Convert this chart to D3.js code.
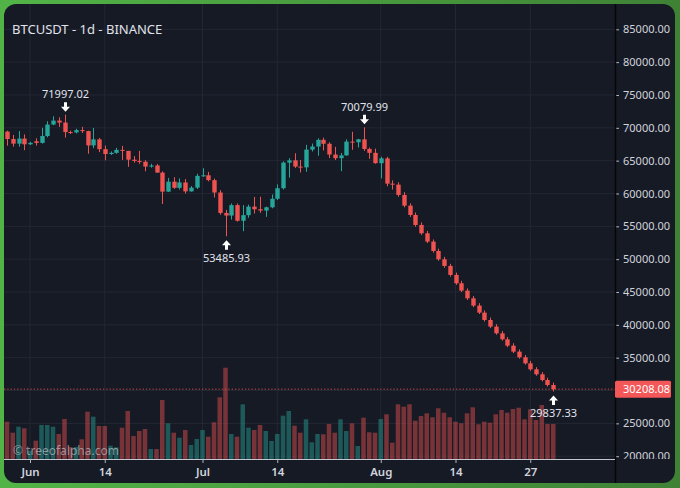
<!DOCTYPE html>
<html>
<head>
<meta charset="utf-8">
<script src="https://cdn.jsdelivr.net/npm/d3@7"></script>
<style>
  html, body { margin: 0; padding: 0; background: #4a9e3f; }
  svg { display: block; }
  text { font-family: "Noto Sans", "Open Sans", sans-serif; }
</style>
</head>
<body>
<div id="chart"></div>
<script>
const title = 'BTCUSDT - 1d - BINANCE'
const watermark = '\u00a9 treeofalpha.com'
const startDate = '2024-05-28'

// daily candles, May 28 .. Aug 31
const opens = [
  69430, 68300, 67590, 68360, 67490, 67950, 67700, 68750, 70500, 71100,
  70800, 69350, 69300, 69650, 69500, 67320, 68240, 66750, 66010, 66190,
  66640, 66490, 65150, 64960, 64830, 64100, 64260, 63180, 60280, 61800,
  60860, 61680, 60320, 60890, 62680, 62770, 62030, 60150, 57040, 56640,
  58230, 55850, 56700, 58000, 57600, 57400, 57900, 59200, 60800, 64700,
  65050, 64100, 63980, 66680, 67150, 68170, 67570, 65930, 65370, 65800,
  67900, 67800, 68250, 66780, 66190, 64620, 65350, 61500, 61350, 59780,
  58150, 56730, 55210, 53940, 52670, 51250, 49980, 48970, 47600, 46330,
  45210, 44040, 42930, 41860, 40740, 39730, 38710, 37800, 36830, 35920,
  35060, 34140, 33230, 32470, 31600, 30840
]
const highs = [
  69560, 68920, 69500, 69000, 67860, 68400, 70000, 71000, 71750, 71600,
  71997.02, 69580, 69850, 70150, 69560, 69990, 68450, 67300, 66400, 66950,
  67250, 66490, 65700, 66480, 65070, 64520, 64500, 63370, 62370, 62480,
  62300, 62200, 61130, 63000, 63850, 63290, 62280, 60500, 57500, 58480,
  58470, 58240, 58300, 59470, 59500, 58000, 59850, 61400, 64900, 65380,
  66130, 65100, 67400, 67600, 68400, 68500, 67800, 67100, 66170, 68250,
  69400, 68320, 70079.99, 66990, 66830, 65600, 65590, 62000, 61700, 60200,
  58500, 57100, 55600, 54300, 53000, 51600, 50350, 49300, 47950, 46700,
  45550, 44400, 43300, 42200, 41100, 40100, 39050, 38150, 37200, 36250,
  35400, 34500, 33550, 32800, 31950, 31200
]
const lows = [
  67280, 67130, 67120, 66600, 67390, 67300, 67600, 68550, 70400, 70150,
  68500, 69050, 69150, 69200, 66050, 66900, 66300, 65050, 65870, 66040,
  65100, 64060, 64700, 64520, 63380, 63940, 63150, 58400, 60250, 60710,
  60600, 60000, 60270, 60680, 62530, 61850, 59400, 56770, 53485.93, 56020,
  55720, 54260, 56300, 56950, 57050, 56450, 57750, 59000, 60600, 62400,
  63900, 63200, 63300, 66400, 65750, 66550, 65400, 65100, 63400, 65750,
  66650, 67000, 66480, 65300, 64530, 62300, 61100, 60600, 59500, 57900,
  56450, 54950, 53700, 52450, 51000, 49750, 48700, 47350, 46100, 45000,
  43800, 42700, 41650, 40500, 39500, 38500, 37600, 36600, 35700, 34850,
  33950, 33000, 32250, 31400, 30600, 29837.33
]
const closes = [
  68300, 67590, 68360, 67490, 67710, 67700, 68750, 70500, 71100, 70800,
  69350, 69300, 69650, 69500, 67320, 68240, 66750, 66010, 66190, 66640,
  66490, 65150, 64960, 64830, 64100, 64260, 63180, 60280, 61800, 60860,
  61680, 60320, 60890, 62680, 62770, 62030, 60150, 57040, 56640, 58230,
  55850, 56700, 58000, 57600, 57400, 57900, 59200, 60800, 64700, 65050,
  64100, 63980, 66680, 67150, 68170, 67570, 65930, 65370, 65800, 67900,
  67800, 68250, 66780, 66190, 64620, 65350, 61500, 61350, 59780, 58150,
  56730, 55210, 53940, 52670, 51250, 49980, 48970, 47600, 46330, 45210,
  44040, 42930, 41860, 40740, 39730, 38710, 37800, 36830, 35920, 35060,
  34140, 33230, 32470, 31600, 30840, 30208.08
]
const volumes = [
  37.3, 26.3, 32.3, 30.7, 8.3, 18.3, 34, 34, 32.3, 25,
  40, 12, 12, 19.7, 47.3, 42.3, 33, 33, 13.3, 11.7,
  31.3, 48, 23, 28, 30, 10, 10, 59, 35.7, 26.3,
  21.3, 29, 14, 20, 29, 22.3, 36.7, 61.7, 91.3, 25,
  22.3, 54.7, 31.3, 29, 34, 28, 18, 25, 43.3, 48,
  33.3, 26.3, 39.7, 16.7, 25, 24.7, 35, 26.3, 39.7, 28,
  35.7, 13, 41.3, 26.7, 26.3, 40, 44.7, 16.3, 54.7, 52.3,
  54.7, 38.3, 43, 45.7, 41.7, 50.7, 46.3, 41.7, 37.3, 35.7,
  45.7, 51.7, 34.7, 37.3, 36.3, 44.7, 49, 46.3, 50, 51.3,
  39.7, 49.7, 39, 54, 35, 35
]

const priceTicks = [20000, 25000, 30000, 35000, 40000, 45000, 50000, 55000,
  60000, 65000, 70000, 75000, 80000, 85000]
const timeTickDates = ['2024-06-01', '2024-06-14', '2024-07-01', '2024-07-14',
  '2024-08-01', '2024-08-14', '2024-08-27']
const timeTickLabels = ['Jun', '14', 'Jul', '14', 'Aug', '14', '27']

// annotated extremes
const markerIdx = [10, 38, 62, 95]
const markerSide = ['high', 'low', 'high', 'low']

const W = 680, H = 488
const plotL = 4, plotR = 615, plotT = 4, plotB = 459
const upColor = '#26a69a', downColor = '#ef5350'

const start = new Date(startDate)
const dates = d3.utcDay.range(start, d3.utcDay.offset(start, closes.length))

const x = d3.scaleUtc()
  .domain([dates[0], dates[dates.length - 1]])
  .range([7, 553.25])
const y = d3.scaleLinear().domain([20000, 85000]).range([456.2, 29.3])
const v = d3.scaleLinear().domain([0, 100]).range([plotB, plotB - 100])

const svg = d3.select('#chart').append('svg')
  .attr('width', W)
  .attr('height', H)

const defs = svg.append('defs')
const grad = defs.append('linearGradient').attr('id', 'frame')
grad.append('stop').attr('offset', '0%').attr('stop-color', '#52b447')
grad.append('stop').attr('offset', '100%').attr('stop-color', '#3f8236')
defs.append('clipPath').attr('id', 'plot')
  .append('rect').attr('x', plotL).attr('y', plotT)
  .attr('width', plotR - plotL).attr('height', plotB - plotT)
defs.append('clipPath').attr('id', 'paxis')
  .append('rect').attr('x', 0).attr('y', plotT)
  .attr('width', W - plotR).attr('height', plotB - plotT)

svg.append('rect').attr('width', W).attr('height', H).attr('fill', 'url(#frame)')
svg.append('rect')
  .attr('x', 4).attr('y', 4)
  .attr('width', 671).attr('height', 479)
  .attr('rx', 12)
  .attr('fill', '#161a25')

// grid
const grid = svg.append('g').attr('clip-path', 'url(#plot)')
grid.selectAll('line.h')
  .data(priceTicks)
  .join('line')
  .attr('x1', plotL).attr('x2', plotR)
  .attr('y1', d => y(d)).attr('y2', d => y(d))
  .attr('stroke', '#232733')
grid.selectAll('line.v')
  .data(timeTickDates)
  .join('line')
  .attr('x1', d => x(new Date(d))).attr('x2', d => x(new Date(d)))
  .attr('y1', plotT).attr('y2', plotB)
  .attr('stroke', '#232733')

const plot = svg.append('g').attr('clip-path', 'url(#plot)')

// volume
plot.selectAll('rect.vol')
  .data(volumes)
  .join('rect')
  .attr('x', (d, i) => x(dates[i]) - 2.25)
  .attr('width', 4.5)
  .attr('y', d => v(d))
  .attr('height', d => plotB - v(d))
  .attr('fill', (d, i) => closes[i] >= opens[i] ? upColor : downColor)
  .attr('fill-opacity', 0.45)

plot.append('text')
  .attr('x', 13).attr('y', 455)
  .attr('font-size', 12)
  .attr('fill', 'rgba(209,212,220,0.6)')
  .text(watermark)

// last price line
const lastPrice = closes[closes.length - 1]
plot.append('line')
  .attr('x1', plotL).attr('x2', plotR)
  .attr('y1', y(lastPrice)).attr('y2', y(lastPrice))
  .attr('stroke', downColor)
  .attr('stroke-opacity', 0.85)
  .attr('stroke-dasharray', '1.3 2')

// candles
const candles = plot.selectAll('g.candle')
  .data(closes)
  .join('g')
  .attr('fill', (d, i) => d >= opens[i] ? upColor : downColor)
  .attr('stroke', (d, i) => d >= opens[i] ? upColor : downColor)
candles.append('line')
  .attr('x1', (d, i) => Math.round(x(dates[i])) + 0.5)
  .attr('x2', (d, i) => Math.round(x(dates[i])) + 0.5)
  .attr('y1', (d, i) => y(highs[i]))
  .attr('y2', (d, i) => y(lows[i]))
  .attr('stroke-width', 1)
candles.append('rect')
  .attr('x', (d, i) => Math.round(x(dates[i])) + 0.5 - 2.2)
  .attr('width', 4.4)
  .attr('y', (d, i) => y(Math.max(d, opens[i])))
  .attr('height', (d, i) => Math.max(1, y(Math.min(d, opens[i])) - y(Math.max(d, opens[i]))))
  .attr('stroke', 'none')

// markers
const markers = svg.append('g')
markerIdx.forEach((idx, k) => {
  const cx = Math.round(x(dates[idx])) + 0.5
  const g = markers.append('g')
  if (markerSide[k] === 'high') {
    const tip = y(highs[idx]) - 3
    g.append('path')
      .attr('d', `M${cx - 1.5},${tip - 9.5}h3v4.5h3l-4.5,5l-4.5,-5h3z`)
      .attr('fill', '#ffffff')
    g.append('text')
      .attr('x', cx).attr('y', tip - 13.5)
      .attr('text-anchor', 'middle')
      .attr('font-size', 11)
      .attr('fill', '#e0e3eb')
      .text(highs[idx].toFixed(2))
  } else {
    const tip = y(lows[idx]) + 4
    g.append('path')
      .attr('d', `M${cx},${tip}l4.5,5h-3v4.5h-3v-4.5h-3z`)
      .attr('fill', '#ffffff')
    g.append('text')
      .attr('x', cx).attr('y', tip + 21.5)
      .attr('text-anchor', 'middle')
      .attr('font-size', 11)
      .attr('fill', '#e0e3eb')
      .text(lows[idx].toFixed(2))
  }
})

// price axis
const pAxis = svg.append('g')
  .attr('transform', `translate(${plotR},0)`)
  .attr('clip-path', 'url(#paxis)')
  .call(d3.axisRight(y).tickValues(priceTicks).tickFormat(d => d.toFixed(2))
    .tickSize(4).tickPadding(4))
pAxis.select('.domain').remove()
pAxis.selectAll('line').attr('stroke', '#b2b5be')
pAxis.selectAll('text')
  .attr('fill', '#d1d4dc')
  .attr('font-size', 11)
  .attr('font-family', '"Noto Sans", sans-serif')

svg.append('line')
  .attr('x1', plotR + 0.5).attr('x2', plotR + 0.5)
  .attr('y1', plotT).attr('y2', 483)
  .attr('stroke', '#050608')
  .attr('stroke-width', 1.5)

// time axis
const tAxis = svg.append('g')
  .attr('transform', `translate(0,${plotB})`)
  .call(d3.axisBottom(x).tickValues(timeTickDates.map(d => new Date(d)))
    .tickFormat((d, i) => timeTickLabels[i])
    .tickSize(4).tickPadding(5))
tAxis.select('.domain').remove()
tAxis.selectAll('line').attr('stroke', '#b2b5be')
tAxis.selectAll('text')
  .attr('fill', '#d1d4dc')
  .attr('font-size', 11.5)
  .attr('font-weight', 600)
  .attr('font-family', '"Noto Sans", sans-serif')
svg.append('line')
  .attr('x1', plotL).attr('x2', plotR)
  .attr('y1', plotB + 0.5).attr('y2', plotB + 0.5)
  .attr('stroke', '#c3c6ce')

// last price label
svg.append('rect')
  .attr('x', plotR).attr('y', y(lastPrice) - 8.5)
  .attr('width', 56).attr('height', 17)
  .attr('rx', 1.5)
  .attr('fill', '#f35757')
svg.append('text')
  .attr('x', plotR + 8).attr('y', y(lastPrice))
  .attr('dy', '0.35em')
  .attr('font-size', 11)
  .attr('fill', '#ffffff')
  .text(lastPrice.toFixed(2))

// title
svg.append('text')
  .attr('x', 12).attr('y', 34)
  .attr('font-size', 13)
  .attr('fill', '#e0e3eb')
  .text(title)
</script>
</body>
</html>
